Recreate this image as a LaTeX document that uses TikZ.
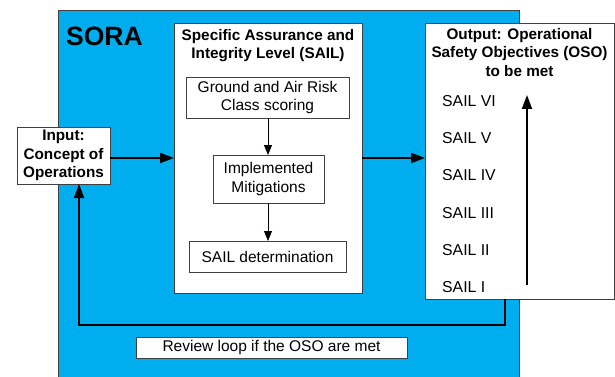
\documentclass[tikz,border=0pt]{standalone}
\usepackage{fontspec}
\setmainfont{Liberation Sans}
\usetikzlibrary{arrows.meta}
\definecolor{sorablue}{HTML}{00AEEF}
\definecolor{edge}{HTML}{404040}
\begin{document}
\begin{tikzpicture}[x=1pt,y=-1pt,
  box/.style={draw=edge,line width=0.8pt,fill=white},
  txt/.style={font=\fontsize{15.5}{18.5}\selectfont,align=center,inner sep=0pt},
  btxt/.style={font=\bfseries\fontsize{15.3}{18.5}\selectfont,align=center,inner sep=0pt},
  thin/.style={draw=black,line width=0.8pt,-{Triangle[length=10pt,width=8pt]}},
  thick/.style={draw=black,line width=2pt,-{Triangle[length=14pt,width=10pt]}},
  sail/.style={font=\fontsize{15.8}{18}\selectfont,anchor=west,inner sep=0pt}]
\useasboundingbox (0,0) rectangle (615,377);
% SORA background
\path[fill=sorablue,draw=edge,line width=0.8pt] (58,377.5) -- (58,10) -- (519,10) -- (519,377.5);
\node[font=\bfseries\fontsize{26.5}{30}\selectfont,anchor=west,inner sep=0pt] (sora) at (66,36) {SORA};
% Input
\draw[box] (17,127) rectangle (110,184);
\node[btxt] (inp) at (63.5,155.5) {Input:\\Concept of\\Operations};
\coordinate (inpE) at (110,158);
\coordinate (inpS) at (79,184);
% SAIL box
\draw[box] (174,23) rectangle (362,293);
\node[btxt] (sailt) at (268,45.5) {Specific Assurance and\\Integrity Level (SAIL)};
\coordinate (sailW) at (174,158);
\coordinate (sailE) at (362,158);
\draw[box] (186,77) rectangle (349,118);
\node[txt] (ground) at (267.5,97.5) {Ground and Air Risk\\Class scoring};
\draw[box] (213,155) rectangle (324,203);
\node[txt] (impl) at (268.5,179) {Implemented\\Mitigations};
\draw[box] (189,241) rectangle (346,272);
\node[txt] (det) at (267.5,256.5) {SAIL determination};
\draw[thin] (268,118) -- (268,155);
\draw[thin] (268,203) -- (268,241);
% Output box
\draw[box] (425,23) rectangle (614,299);
\node[btxt] (outt) at (519.5,52.5) {Output: Operational\\Safety Objectives (OSO)\\to be met};
\coordinate (outW) at (425,158);
\coordinate (outS) at (505,299);
\node[sail] (s6) at (442,101) {SAIL VI};
\node[sail] (s5) at (442,138) {SAIL V};
\node[sail] (s4) at (442,175) {SAIL IV};
\node[sail] (s3) at (442,213) {SAIL III};
\node[sail] (s2) at (442,250) {SAIL II};
\node[sail] (s1) at (442,287) {SAIL I};
\coordinate (upS) at (527,285);
\coordinate (upE) at (527,95);
\draw[line width=2pt,-{Triangle[length=14pt,width=10pt]}] (upS) -- (upE);
% Main arrows
\draw[thick] (inpE) -- (sailW);
\draw[thick] (sailE) -- (outW);
\draw[thick] (outS) -- (505,325) -- (79,325) -- (inpS);
% Review box
\draw[box] (136,337) rectangle (407,358);
\node[txt] (rev) at (271.5,347.5) {Review loop if the OSO are met};
\end{tikzpicture}
\end{document}
